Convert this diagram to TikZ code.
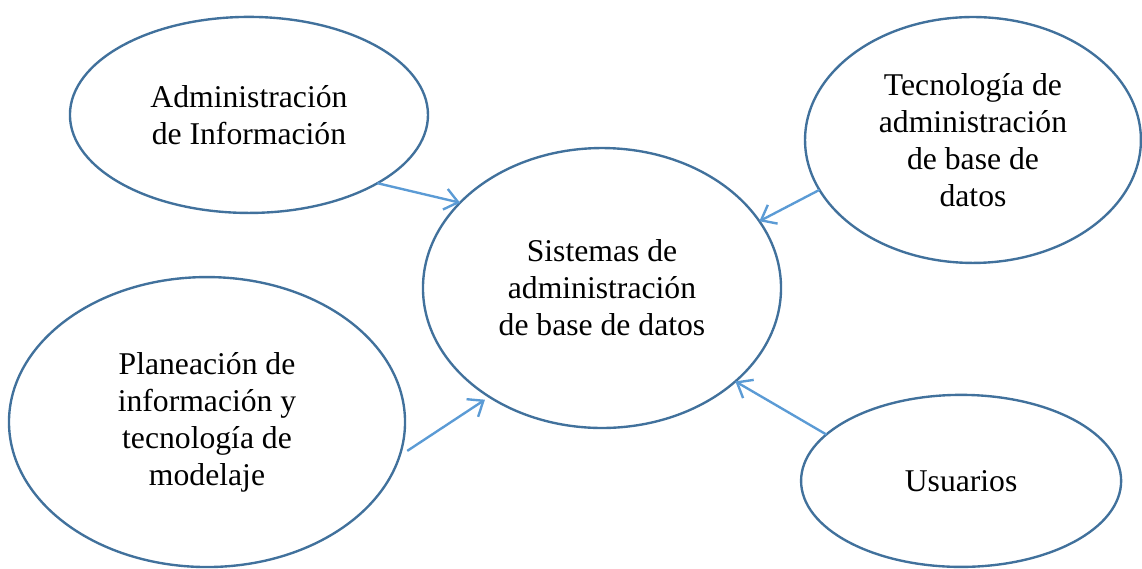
\documentclass[tikz,border=0pt]{standalone}
\usepackage{fontspec}
\setmainfont{Liberation Serif}
\usetikzlibrary{arrows.meta}
\usetikzlibrary{positioning}
\usetikzlibrary{shapes}
\definecolor{rim}{HTML}{41719C}
\definecolor{wire}{HTML}{5B9BD5}

\begin{document}
\begin{tikzpicture}[x=0.379pt,y=-0.379pt,on grid,
    bubble/.style={draw=rim,line width=0.9pt,ellipse,inner sep=0pt,outer sep=0pt,
      align=center,font=\fontsize{12pt}{14pt}\selectfont},
    link/.style={draw=wire,line width=0.9pt,-{Straight Barb[length=5pt,width=8pt]}}]
          \useasboundingbox (0,0) rectangle (1142,568);
          \node[bubble,minimum width=135.7pt,minimum height=106.1pt] (sistemas) at (602,288) {Sistemas de\\administración\\de base de datos};
          \node[bubble,minimum width=135.7pt,minimum height=74.3pt,above left=65.6pt and 133.8pt of sistemas] (adminInfo) {Administración\\de Información};
          \node[bubble,minimum width=127.3pt,minimum height=93.2pt,above right=56.1pt and 140.6pt of sistemas] (tecnologia) {Tecnología de\\administración\\de base de\\datos};
          \node[bubble,minimum width=150.1pt,minimum height=109.9pt,below left=50.8pt and 149.7pt of sistemas] (planeacion) {Planeación de\\información y\\tecnología de\\modelaje};
          \node[bubble,minimum width=121.3pt,minimum height=65.2pt,below right=73.1pt and 136.1pt of sistemas] (usuarios) {Usuarios};
          \draw[link] (adminInfo.-28) -- (sistemas.149);
          \draw[link] (tecnologia.198) -- (sistemas.23);
          \draw[link,shorten <=3.5pt,shorten >=2pt] (planeacion.-10) -- (sistemas.224);
          \draw[link] (usuarios.161) -- (sistemas.-35);
        \end{tikzpicture}
\end{document}
